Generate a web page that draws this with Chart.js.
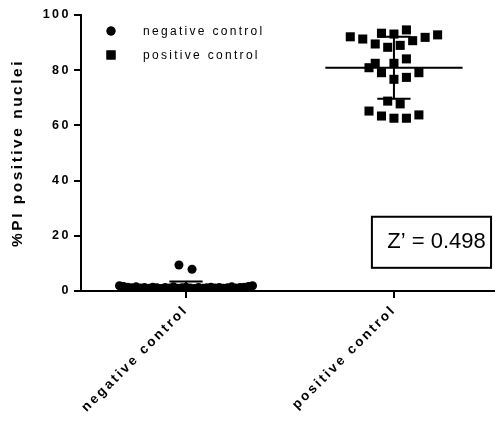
<!DOCTYPE html>
<html>
<head>
<meta charset="utf-8">
<script src="https://cdn.jsdelivr.net/npm/chart.js@4/dist/chart.umd.min.js"></script>
<style>
  html, body { margin: 0; padding: 0; background: #fff; }
  #wrap { width: 495px; height: 424px; position: relative; }
</style>
</head>
<body>
<div id="wrap"><canvas id="c" width="495" height="424"></canvas></div>
<script>
// ---- data ----
const categories = ["negative control", "positive control"];
const yTicks = [0, 20, 40, 60, 80, 100];
const yTitle = "%PI positive nuclei";
const zPrime = "Z\u2019 = 0.498";

// negative control: % PI positive nuclei per well, with horizontal scatter offset (category units)
const negValues = [1.9, 1.6, 1.4, 1.2, 1.5, 1.1, 1.3, 1.0, 1.4, 1.2, 0.9, 1.3, 1.1, 1.5, 1.0, 1.2, 1.4,
                   1.1, 0.9, 1.3, 1.0, 1.2, 1.4, 1.1, 1.3, 1.0, 1.2, 1.5, 1.1, 1.3, 1.4, 1.6, 1.9, 9.4, 7.9];
const negJitter = [-0.32, -0.30, -0.28, -0.26, -0.24, -0.22, -0.20, -0.18, -0.16, -0.14, -0.12, -0.10, -0.08,
                   -0.06, -0.04, -0.02, 0.00, 0.02, 0.04, 0.06, 0.08, 0.10, 0.12, 0.14, 0.16, 0.18, 0.20,
                   0.22, 0.24, 0.26, 0.28, 0.30, 0.32, -0.034, 0.029];

// positive control
const posValues = [92.1, 91.3, 93.4, 93.1, 94.6, 90.7, 91.9, 92.8, 89.5, 88.3, 89.0, 82.5, 82.5, 84.1, 80.9,
                   79.1, 76.7, 77.4, 79.1, 68.8, 67.8, 65.2, 63.4, 62.6, 62.6, 63.8];
const posJitter = [-0.21, -0.15, -0.06, 0.00, 0.06, 0.09, 0.15, 0.21, -0.09, -0.03, 0.03, -0.09, 0.00, 0.06,
                   -0.12, -0.06, 0.00, 0.06, 0.12, -0.03, 0.03, -0.12, -0.06, 0.00, 0.06, 0.12];

// ---- helpers ----
function meanSd(a) {
  const m = a.reduce((s, v) => s + v, 0) / a.length;
  const sd = Math.sqrt(a.reduce((s, v) => s + (v - m) * (v - m), 0) / (a.length - 1));
  return [m, sd];
}
const MEAN_HALF = 0.33, CAP_HALF = 0.08;
function summarySegments(cat, values) {
  const [m, sd] = meanSd(values);
  return [
    {x: cat - MEAN_HALF, y: m}, {x: cat + MEAN_HALF, y: m}, {x: cat, y: null},
    {x: cat, y: m - sd}, {x: cat, y: m + sd}, {x: cat, y: null},
    {x: cat - CAP_HALF, y: m + sd}, {x: cat + CAP_HALF, y: m + sd}, {x: cat, y: null},
    {x: cat - CAP_HALF, y: m - sd}, {x: cat + CAP_HALF, y: m - sd}
  ];
}

const FONT = "'Liberation Sans', Arial, sans-serif";

const spacingPlugin = {
  id: 'spacing',
  beforeLayout(chart) { chart.ctx.letterSpacing = '2.5px'; },
  beforeDraw(chart) { chart.ctx.letterSpacing = '2.5px'; }
};

const legendPlugin = {
  id: 'customLegend',
  afterDraw(chart) {
    const ctx = chart.ctx;
    const items = [
      {label: chart.data.datasets[2].label, style: 'circle', r: 4.5},
      {label: chart.data.datasets[3].label, style: 'rect', r: 6.4}
    ];
    ctx.save();
    ctx.letterSpacing = '2.3px';
    ctx.font = "12px " + FONT;
    ctx.fillStyle = '#000';
    ctx.textBaseline = 'middle';
    ctx.textAlign = 'left';
    items.forEach((it, i) => {
      const y = 31 + i * 24;
      Chart.helpers.drawPoint(ctx, {pointStyle: it.style, radius: it.r, borderWidth: 0}, 111, y);
      ctx.fill();
      ctx.fillText(it.label, 143, y + 1);
    });
    ctx.restore();
  }
};

const zBoxPlugin = {
  id: 'zbox',
  afterDraw(chart) {
    const ctx = chart.ctx;
    const xs = chart.scales.x, ys = chart.scales.y;
    const x0 = xs.getPixelForValue(0.894), x1 = xs.getPixelForValue(1.467);
    const y0 = ys.getPixelForValue(26.9), y1 = ys.getPixelForValue(8.4);
    ctx.save();
    ctx.letterSpacing = '0px';
    ctx.fillStyle = '#fff';
    ctx.fillRect(x0, y0, x1 - x0, y1 - y0);
    ctx.strokeStyle = '#000';
    ctx.lineWidth = 2;
    ctx.strokeRect(x0, y0, x1 - x0, y1 - y0);
    ctx.font = "22px " + FONT;
    ctx.fillStyle = '#000';
    ctx.textAlign = 'center';
    ctx.textBaseline = 'alphabetic';
    ctx.fillText(zPrime, (x0 + x1) / 2 + 5, y1 - 20);
    ctx.restore();
  }
};

new Chart(document.getElementById('c'), {
  type: 'scatter',
  data: {
    datasets: [
      {
        label: 'neg summary', data: summarySegments(0, negValues), showLine: true, spanGaps: false,
        borderColor: '#000', borderWidth: 2, pointRadius: 0, order: 0
      },
      {
        label: 'pos summary', data: summarySegments(1, posValues), showLine: true, spanGaps: false,
        borderColor: '#000', borderWidth: 2, pointRadius: 0, order: 0
      },
      {
        label: categories[0],
        data: negValues.map((v, i) => ({x: 0 + negJitter[i], y: v})),
        pointStyle: 'circle', pointRadius: 4.5, backgroundColor: '#000', borderColor: '#000', borderWidth: 0, order: 1
      },
      {
        label: categories[1],
        data: posValues.map((v, i) => ({x: 1 + posJitter[i], y: v})),
        pointStyle: 'rect', pointRadius: 6.4, backgroundColor: '#000', borderColor: '#000', borderWidth: 0, order: 1
      }
    ]
  },
  options: {
    responsive: false,
    animation: false,
    layout: {autoPadding: false, padding: {top: 15, right: 0, left: 0, bottom: 0}},
    plugins: {legend: {display: false}, tooltip: {enabled: false}, title: {display: false}},
    scales: {
      x: {
        type: 'linear', min: -0.505, max: 1.486,
        afterBuildTicks: (s) => { s.ticks = categories.map((c, i) => ({value: i})); },
        afterFit: (s) => { s.height = 133; },
        ticks: {
          callback: (v) => categories[v] ?? '',
          minRotation: 45, maxRotation: 45, autoSkip: false, padding: 4,
          color: '#000', font: {family: FONT, size: 13.5, weight: 'bold'}
        },
        grid: {drawOnChartArea: false, drawTicks: true, tickLength: 7, color: '#000', lineWidth: 2},
        border: {display: true, color: '#000', width: 2}
      },
      y: {
        min: 0, max: 100,
        afterBuildTicks: (s) => { s.ticks = yTicks.map(v => ({value: v})); },
        afterFit: (s) => { s.width = 81; },
        ticks: {color: '#000', padding: 3, font: {family: FONT, size: 12.5, weight: 'bold'}},
        grid: {drawOnChartArea: false, drawTicks: true, tickLength: 7, color: '#000', lineWidth: 2},
        border: {display: true, color: '#000', width: 2},
        title: {
          display: true, text: yTitle, color: '#000', padding: {top: 8, bottom: 0},
          font: {family: FONT, size: 15.5, weight: 'bold'}
        }
      }
    }
  },
  plugins: [spacingPlugin, legendPlugin, zBoxPlugin]
});
</script>
</body>
</html>
